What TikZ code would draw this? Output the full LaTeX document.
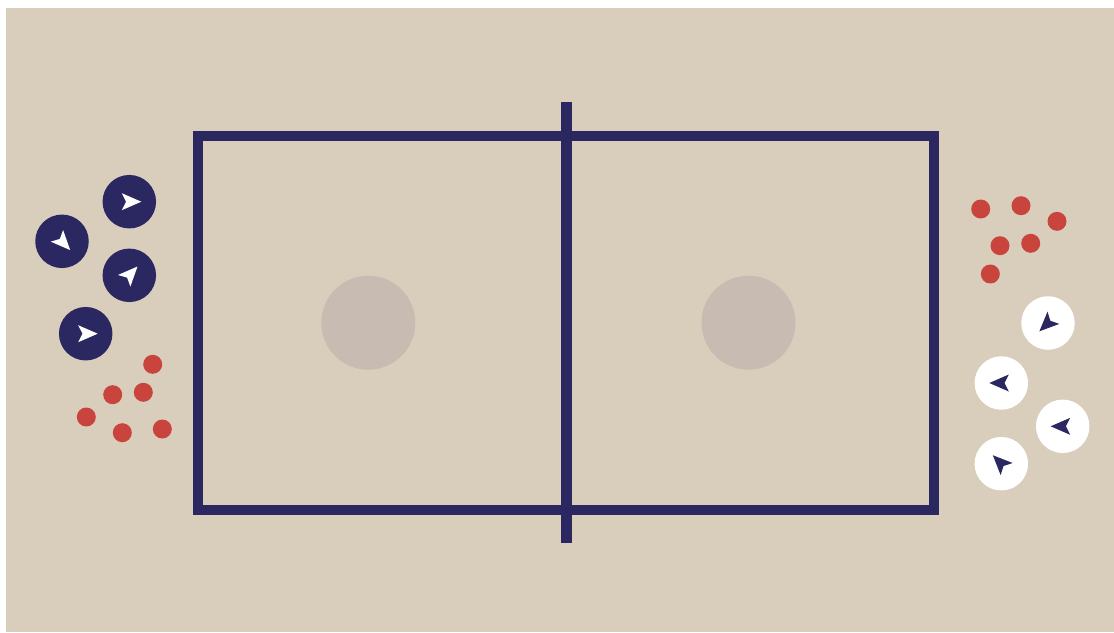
\documentclass[tikz,border=0pt]{standalone}
\definecolor{bg}{HTML}{D9CDBB}
\definecolor{navy}{HTML}{2B2760}
\definecolor{dotred}{HTML}{C9443C}
\definecolor{spot}{HTML}{C8BCB2}
\tikzset{
  court/.style={draw=navy, line width=10pt},
  ball/.style={circle, fill=dotred, minimum size=19pt, inner sep=0pt},
  navyplayer/.style={circle, fill=navy, minimum size=53.5pt, inner sep=0pt},
  whiteplayer/.style={circle, fill=white, minimum size=53.5pt, inner sep=0pt},
  spotc/.style={circle, fill=spot, minimum size=94pt, inner sep=0pt},
  dart/.pic={\fill (12,0) -- (-7.5,8.5) -- (-3.2,0) -- (-7.5,-8.5) -- cycle;}
}
\begin{document}
\begin{tikzpicture}[x=1pt,y=-1pt]
\useasboundingbox (0,0) rectangle (1114,632);
\fill[white] (0,0) rectangle (1114,632);
\fill[bg] (6,8) rectangle (1114,632);
% centre spots
\node[spotc] (s1) at (368.3,322.7) {};
\node[spotc] (s2) at (748.5,322.7) {};
% court
\coordinate (c1) at (197.7,135.7);
\coordinate (c2) at (934,510);
\draw[court] (c1) rectangle (c2);
\coordinate (n1) at (566,102);
\coordinate (n2) at (566,543.3);
\draw[draw=navy, line width=11pt] (n1) -- (n2);
% navy players
\node[navyplayer] (p1) at (129.3,201.7) {};
\node[navyplayer] (p2) at (62,241.3) {};
\node[navyplayer] (p3) at (129.3,275.3) {};
\node[navyplayer] (p4) at (85.7,333.7) {};
\pic[white, rotate=0] at (p1) {dart};
\pic[white, rotate=-47] at (p2) {dart};
\pic[white, rotate=47] at (p3) {dart};
\pic[white, rotate=0] at (p4) {dart};
% white players
\node[whiteplayer] (w1) at (1048,323) {};
\node[whiteplayer] (w2) at (1001.3,383) {};
\node[whiteplayer] (w3) at (1062.7,426.3) {};
\node[whiteplayer] (w4) at (1001.3,463.7) {};
\pic[navy, rotate=224] at (w1) {dart};
\pic[navy, rotate=180] at (w2) {dart};
\pic[navy, rotate=180] at (w3) {dart};
\pic[navy, rotate=135] at (w4) {dart};
% balls left
\node[ball] (b1) at (152.7,364.3) {};
\node[ball] (b2) at (112.7,394.7) {};
\node[ball] (b3) at (143.3,392.3) {};
\node[ball] (b4) at (86.3,417) {};
\node[ball] (b5) at (122.3,432.7) {};
\node[ball] (b6) at (162.3,429) {};
% balls right
\node[ball] (r1) at (980.7,209) {};
\node[ball] (r2) at (1021,205.7) {};
\node[ball] (r3) at (1057,221.3) {};
\node[ball] (r4) at (1000,245.7) {};
\node[ball] (r5) at (1030.7,243.3) {};
\node[ball] (r6) at (990.3,274) {};
\end{tikzpicture}
\end{document}
